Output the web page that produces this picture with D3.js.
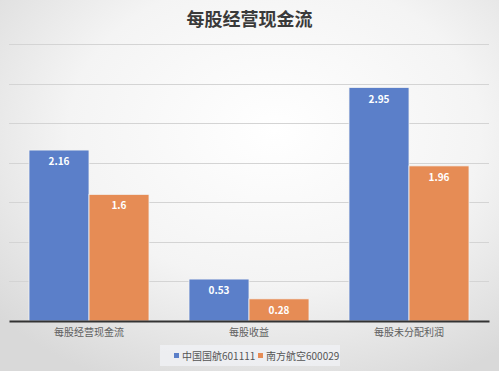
<!DOCTYPE html>
<html>
<head>
<meta charset="utf-8">
<script src="https://cdn.jsdelivr.net/npm/d3@7"></script>
<style>
  html, body { margin: 0; padding: 0; background: #fff; }
  svg { display: block; font-family: "Noto Sans CJK SC", "Noto Sans", sans-serif; }
</style>
</head>
<body>
<div id="chart"></div>
<script>
const title = "每股经营现金流";
const categories = ["每股经营现金流", "每股收益", "每股未分配利润"];
const seriesNames = ["中国国航601111", "南方航空600029"];
const airChina = [2.16, 0.53, 2.95];
const chinaSouthern = [1.6, 0.28, 1.96];
const yTicks = [0, 0.5, 1, 1.5, 2, 2.5, 3, 3.5];
const colors = ["#5b7fc9", "#e68c55"];

const w = 499;
const h = 371;
const m = { top: 44, right: 10, bottom: 50, left: 9 };

const svg = d3.select("#chart").append("svg").attr("width", w).attr("height", h);

const defs = svg.append("defs");
const grad = defs.append("radialGradient").attr("id", "bg").attr("cx", "55%").attr("cy", "35%").attr("r", "75%");
grad.append("stop").attr("offset", "0%").attr("stop-color", "#ffffff");
grad.append("stop").attr("offset", "55%").attr("stop-color", "#f4f4f4");
grad.append("stop").attr("offset", "100%").attr("stop-color", "#d9d9d9");
svg.append("rect").attr("width", w).attr("height", h).attr("fill", "url(#bg)");

const x0 = d3.scaleBand().domain(categories).range([m.left, w - m.right]).paddingInner(0.25).paddingOuter(0.125);
const x1 = d3.scaleBand().domain(seriesNames).range([0, x0.bandwidth()]);
const y = d3.scaleLinear().domain([0, 3.5]).range([h - m.bottom, m.top]);

// gridlines
svg.append("g")
  .selectAll("line")
  .data(yTicks.slice(1))
  .enter()
  .append("line")
  .attr("x1", m.left)
  .attr("x2", w - m.right)
  .attr("y1", (d) => Math.round(y(d)) + 0.5)
  .attr("y2", (d) => Math.round(y(d)) + 0.5)
  .attr("stroke", "#d4d4d4")
  .attr("stroke-width", 1);

const rows = categories.map((c, i) => ({ cat: c, vals: [airChina[i], chinaSouthern[i]] }));

const groups = svg.append("g")
  .selectAll("g")
  .data(rows)
  .enter()
  .append("g")
  .attr("transform", (d) => `translate(${x0(d.cat)},0)`);

groups.selectAll("rect")
  .data((d) => d.vals.map((v, i) => ({ name: seriesNames[i], v, i })))
  .enter()
  .append("rect")
  .attr("x", (d) => x1(d.name))
  .attr("width", x1.bandwidth())
  .attr("y", (d) => y(d.v))
  .attr("height", (d) => y(0) - y(d.v))
  .attr("fill", (d) => colors[d.i])
  .attr("stroke", "#f2f2f2")
  .attr("stroke-width", 0.8);

groups.selectAll("text")
  .data((d) => d.vals.map((v, i) => ({ name: seriesNames[i], v, i })))
  .enter()
  .append("text")
  .attr("x", (d) => x1(d.name) + x1.bandwidth() / 2)
  .attr("y", (d) => y(d.v) + 15)
  .attr("text-anchor", "middle")
  .attr("font-size", 10)
  .attr("font-weight", "bold")
  .attr("fill", "#fff")
  .text((d) => d.v);

// x axis
const xAxis = svg.append("g")
  .attr("transform", `translate(0,${y(0)})`)
  .call(d3.axisBottom(x0).tickSize(0).tickPadding(8));
xAxis.select(".domain").attr("stroke", "#333").attr("stroke-width", 2);
xAxis.selectAll("text").attr("font-size", 10).attr("fill", "#606060").attr("font-family", "\"Noto Sans CJK SC\", sans-serif");

// title
svg.append("text")
  .attr("x", w / 2)
  .attr("y", 26)
  .attr("text-anchor", "middle")
  .attr("font-size", 18)
  .attr("font-weight", "bold")
  .attr("fill", "#3a3a3a")
  .text(title);

// legend
const legend = svg.append("g").attr("transform", "translate(160,345)");
legend.append("rect").attr("width", 180).attr("height", 21).attr("fill", "#eef0f3").attr("opacity", 0.9);
const items = legend.selectAll("g")
  .data(seriesNames)
  .enter()
  .append("g")
  .attr("transform", (d, i) => `translate(${14 + i * 84},0)`);
items.append("rect").attr("y", 8).attr("width", 5).attr("height", 5).attr("fill", (d, i) => colors[i]);
items.append("text")
  .attr("x", 8)
  .attr("y", 14.5)
  .attr("font-size", 10)
  .attr("fill", "#555")
  .text((d) => d);
</script>
</body>
</html>
